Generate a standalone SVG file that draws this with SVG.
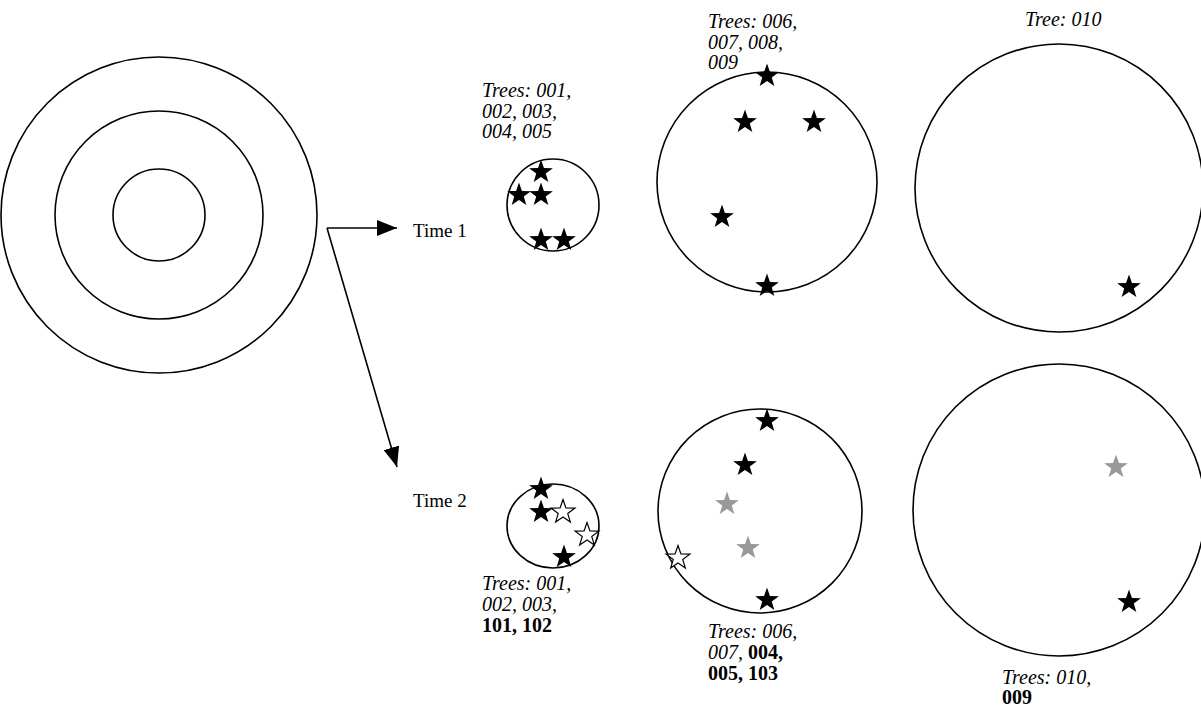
<svg xmlns="http://www.w3.org/2000/svg" width="1201" height="710" viewBox="0 0 1201 710">
<style>
.c{fill:none;stroke:#000;stroke-width:1.6}
.t{font-family:"Liberation Serif",serif;font-size:19px;fill:#000}
.i{font-style:italic;font-size:20px}
.b{font-weight:bold;font-style:normal}
.k{fill:#000}
.g{fill:#999}
.w{fill:#fff;stroke:#000;stroke-width:1.2}
.a{stroke:#000;stroke-width:1.6;fill:none}
</style>
<defs>
<path id="s" d="M0,-12.5 L2.94,-4.05 L11.89,-3.86 L4.76,1.55 L7.35,10.11 L0,5 L-7.35,10.11 L-4.76,1.55 L-11.89,-3.86 L-2.94,-4.05 Z"/>
<marker id="ah" markerUnits="userSpaceOnUse" markerWidth="20" markerHeight="16" refX="20" refY="8" orient="auto"><path d="M0,0 L20,8 L0,16 Z" fill="#000"/></marker>
</defs>
<g id="target">
<circle class="c" cx="159" cy="215" r="158"/>
<circle class="c" cx="159" cy="215" r="104"/>
<circle class="c" cx="159" cy="215" r="46"/>
</g>
<g id="connectors">
<path class="a" d="M327,228 L397,228" marker-end="url(#ah)"/>
<path class="a" d="M327,228 L397,467" marker-end="url(#ah)"/>
</g>
<g id="time1-label"><text class="t" x="413" y="237">Time 1</text></g>
<g id="time2-label"><text class="t" x="413" y="507">Time 2</text></g>
<g id="t1-small">
<circle class="c" cx="553" cy="205" r="46"/>
<use href="#s" class="k" x="541" y="172"/>
<use href="#s" class="k" x="519" y="195"/>
<use href="#s" class="k" x="541" y="195"/>
<use href="#s" class="k" x="541" y="240"/>
<use href="#s" class="k" x="564" y="240"/>
<text class="t i"><tspan x="482" y="97">Trees: 001,</tspan><tspan x="482" y="118">002, 003,</tspan><tspan x="482" y="138">004, 005</tspan></text>
</g>
<g id="t1-mid">
<circle class="c" cx="767" cy="182" r="110"/>
<use href="#s" class="k" x="767" y="76"/>
<use href="#s" class="k" x="745" y="122"/>
<use href="#s" class="k" x="814" y="122"/>
<use href="#s" class="k" x="722" y="217"/>
<use href="#s" class="k" x="767" y="286"/>
<text class="t i"><tspan x="708" y="28">Trees: 006,</tspan><tspan x="708" y="49">007, 008,</tspan><tspan x="708" y="69">009</tspan></text>
</g>
<g id="t1-large">
<circle class="c" cx="1059" cy="188" r="144"/>
<use href="#s" class="k" x="1129" y="287"/>
<text class="t i" x="1025" y="26">Tree: 010</text>
</g>
<g id="t2-small">
<ellipse class="c" cx="553" cy="526" rx="46" ry="42"/>
<use href="#s" class="k" x="541" y="489"/>
<use href="#s" class="k" x="541" y="512"/>
<use href="#s" class="w" x="563" y="512"/>
<use href="#s" class="w" x="587" y="535"/>
<use href="#s" class="k" x="564" y="557"/>
<text class="t i"><tspan x="482" y="590">Trees: 001,</tspan><tspan x="482" y="611">002, 003,</tspan><tspan class="b" x="482" y="632">101, 102</tspan></text>
</g>
<g id="t2-mid">
<circle class="c" cx="760" cy="511" r="102"/>
<use href="#s" class="k" x="767" y="421"/>
<use href="#s" class="k" x="745" y="465"/>
<use href="#s" class="g" x="727" y="504"/>
<use href="#s" class="g" x="748" y="548"/>
<use href="#s" class="w" x="678" y="558"/>
<use href="#s" class="k" x="767" y="600"/>
<text class="t i"><tspan x="708" y="638">Trees: 006,</tspan><tspan x="708" y="659">007, <tspan class="b">004,</tspan></tspan><tspan class="b" x="708" y="680">005, 103</tspan></text>
</g>
<g id="t2-large">
<circle class="c" cx="1059" cy="510" r="146"/>
<use href="#s" class="g" x="1116" y="467"/>
<use href="#s" class="k" x="1129" y="602"/>
<text class="t i"><tspan x="1002" y="684">Trees: 010,</tspan><tspan class="b" x="1002" y="704">009</tspan></text>
</g>
</svg>
